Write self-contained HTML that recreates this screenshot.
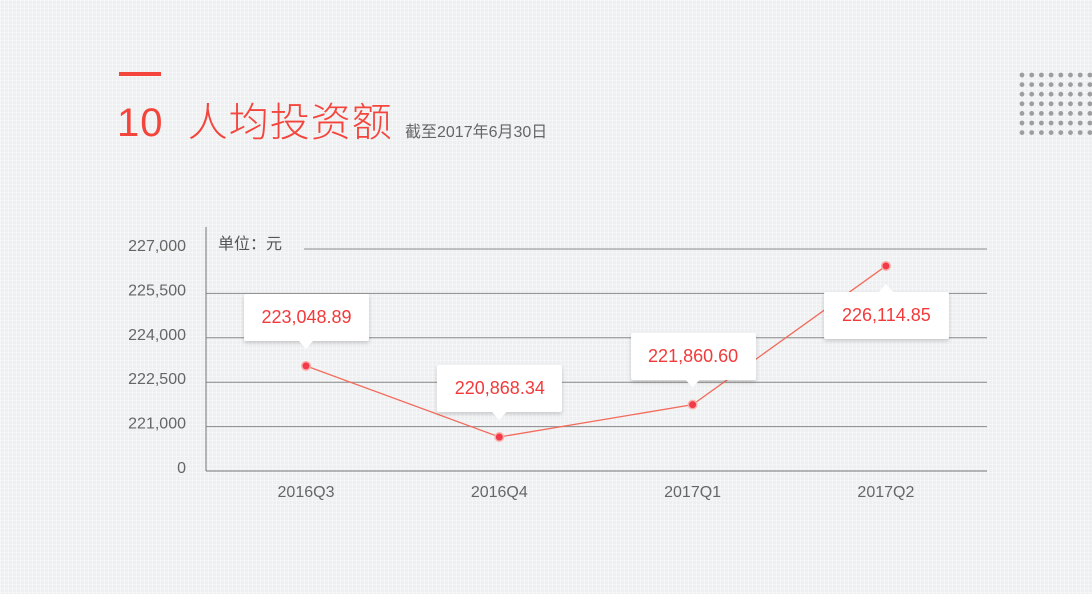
<!DOCTYPE html>
<html><head><meta charset="utf-8"><style>
html,body{margin:0;padding:0;}
body{width:1092px;height:594px;overflow:hidden;position:relative;font-family:"Liberation Sans","Noto Sans CJK SC",sans-serif;
background-color:#eeeff1;background-image:linear-gradient(rgba(255,255,255,.35) 1px,transparent 1px),linear-gradient(90deg,rgba(255,255,255,.35) 1px,transparent 1px);background-size:4px 4px;}
.abs{position:absolute;}
.callout{position:absolute;background:#fff;box-shadow:0 2px 4px rgba(0,0,0,.18);border-radius:2px;color:#f23a3a;font-size:18px;text-align:center;width:125px;height:47px;line-height:47px;z-index:1;}
</style></head><body>
<div class="abs" style="left:119px;top:72px;width:42px;height:4px;background:#f4453c"></div>
<div class="abs" style="left:117px;top:90px;font-size:40px;color:#f4453c;font-weight:300;white-space:nowrap;letter-spacing:1px">10&nbsp;&nbsp;人均投资额</div>
<div class="abs" style="left:405px;top:118px;font-size:16px;color:#666;white-space:nowrap">截至2017年6月30日</div>
<svg class="abs" style="left:0;top:0" width="1092" height="594" id="chart">
<g id="deco"></g><g id="grid"></g><g id="series"></g>
</svg>
<div id="labels"></div>
<script>
const categories=["2016Q3","2016Q4","2017Q1","2017Q2"];
const values=[223048.89,220868.34,221860.60,226114.85];
const valueLabels=["223,048.89","220,868.34","221,860.60","226,114.85"];
const tickLabels=["0","221,000","222,500","224,000","225,500","227,000"];
const NS="http://www.w3.org/2000/svg";
const pLeft=206,pRight=987,pTop=249,pBottom=471;
const x0=306,xStep=193.3;
function xs(i){return x0+i*xStep;}
const dMin=219825,dMax=226635;
function ys(v){return pBottom-(v-dMin)/(dMax-dMin)*(pBottom-pTop);}
function mk(tag,attrs,parent){const e=document.createElementNS(NS,tag);for(const k in attrs)e.setAttribute(k,attrs[k]);parent.appendChild(e);return e;}
const deco=document.getElementById('deco');
for(let r=0;r<7;r++)for(let c=0;c<8;c++){
 const d=mk('circle',{cx:1022+c*9.7,cy:75+r*9.6,r:2.4,fill:'#9e9ea0'},deco);
 
 
}
const grid=document.getElementById('grid');
const tickStep=(pBottom-pTop)/(tickLabels.length-1);
tickLabels.forEach((t,i)=>{
 const y=pBottom-i*tickStep;
 if(i>0){const l=mk('line',{x1:(i===tickLabels.length-1?304:pLeft),x2:pRight,y1:y,y2:y,stroke:'#8a8a8a','stroke-width':1},grid);
 
 }
 const tx=mk('text',{x:186,y:y+2,'text-anchor':'end','font-size':16,fill:'#666','font-family':'Liberation Sans, sans-serif'},grid);
 tx.textContent=t;
 
 
});
const ax=mk('line',{x1:pLeft,x2:pRight,y1:pBottom,y2:pBottom,stroke:'#777','stroke-width':1},grid);


const ay=mk('line',{x1:pLeft,x2:pLeft,y1:227,y2:pBottom,stroke:'#777','stroke-width':1},grid);


const unit=mk('text',{x:218,y:249,'font-size':16,fill:'#555','font-family':'Liberation Sans, Noto Sans CJK SC, sans-serif'},grid);
unit.textContent='单位：元';


categories.forEach((c,i)=>{
 const t=mk('text',{x:xs(i),y:497,'text-anchor':'middle','font-size':16,fill:'#666','font-family':'Liberation Sans, sans-serif'},grid);
 t.textContent=c;
 
 
});
const ser=document.getElementById('series');
const pl=mk('polyline',{points:values.map((v,i)=>xs(i)+','+ys(v)).join(' '),fill:'none',stroke:'#f26b5b','stroke-width':1.3},ser);


const labels=document.getElementById('labels');
const over=document.createElementNS(NS,'svg');
over.setAttribute('width','1092');
over.setAttribute('height','594');
over.setAttribute('style','position:absolute;left:0;top:0;z-index:2');


document.body.appendChild(over);
values.forEach((v,i)=>{
 const cx=xs(i),cy=ys(v);
 const h=mk('circle',{cx:cx,cy:cy,r:5,fill:'#f9b3ac'},ser);
 
 
 const p=mk('circle',{cx:cx,cy:cy,r:3.5,fill:'#f23a4a'},ser);
 
 
 const below=(i===values.length-1);
 const d=document.createElement('div');
 d.className='callout';
 
 
 d.textContent=valueLabels[i];
 d.style.left=(cx-62)+'px';
 d.style.top=(below?cy+26:cy-72)+'px';
 labels.appendChild(d);
 const a=mk('polygon',{points:below?`${cx-8},${cy+27} ${cx+8},${cy+27} ${cx},${cy+18}`:`${cx-8},${cy-26} ${cx+8},${cy-26} ${cx},${cy-17}`,fill:'#fff'},over);
 
 
});
</script>
</body></html>
